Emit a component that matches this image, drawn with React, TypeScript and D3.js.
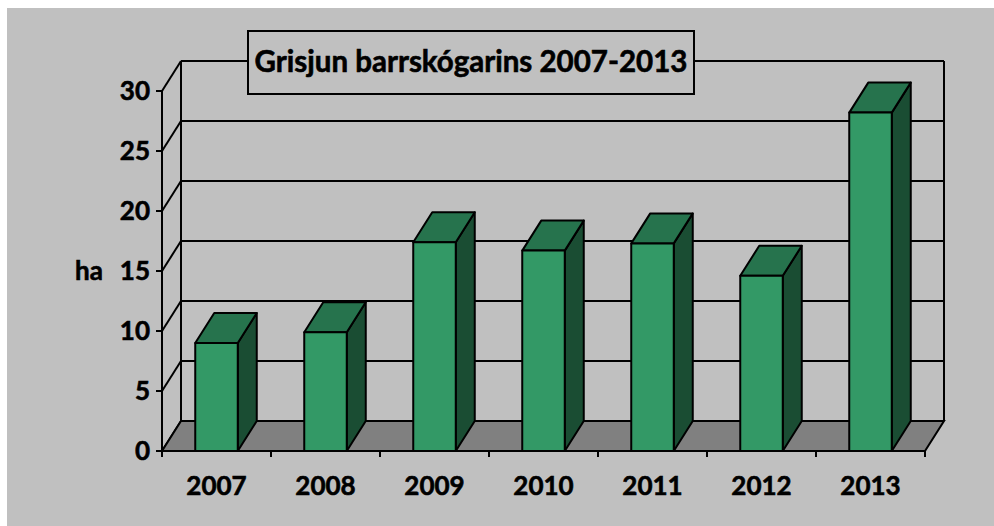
import React, { useRef, useEffect } from 'react'
import * as d3 from 'd3'

const years = ['2007', '2008', '2009', '2010', '2011', '2012', '2013']
const hectares = [9.0, 9.9, 17.4, 16.7, 17.3, 14.6, 28.2]
const yTicks = [0, 5, 10, 15, 20, 25, 30]
const title = 'Grisjun barrskógarins 2007-2013'
const yLabel = 'ha'

const W = 994
const H = 526
const FONT = 'Lato, "Open Sans", sans-serif'

export default function App() {
  const ref = useRef<SVGSVGElement>(null)

  useEffect(() => {
    const svg = d3.select(ref.current)
    svg.selectAll('*').remove()

    // depth offset of the 3d box
    const dx = 19
    const dy = -30

    const x = d3.scaleBand().domain(years).range([162, 925]).padding(0)
    const y = d3.scaleLinear().domain([0, 30]).range([451, 91])
    const barW = x.bandwidth() * 0.39

    svg.append('rect').attr('width', W).attr('height', H).attr('fill', '#fff')
    svg.append('rect').attr('x', 7).attr('y', 8).attr('width', W - 7).attr('height', H - 8).attr('fill', '#c0c0c0')

    const g = svg.append('g')
    const x0 = x.range()[0]
    const x1 = x.range()[1]

    const label = sel => sel
      .attr('font-family', FONT).attr('font-weight', 'bold')
      .attr('stroke', '#000').attr('stroke-width', 0.6)

    // back wall gridlines
    yTicks.forEach(t => {
      g.append('line')
        .attr('x1', x0 + dx).attr('x2', x1 + dx)
        .attr('y1', y(t) + dy).attr('y2', y(t) + dy)
        .attr('stroke', '#000').attr('stroke-width', 2)
      // side wall diagonals
      g.append('line')
        .attr('x1', x0).attr('y1', y(t))
        .attr('x2', x0 + dx).attr('y2', y(t) + dy)
        .attr('stroke', '#000').attr('stroke-width', 2)
    })
    // back wall verticals
    ;[x0 + dx, x1 + dx].forEach(xx => {
      g.append('line')
        .attr('x1', xx).attr('x2', xx)
        .attr('y1', y(30) + dy).attr('y2', y(0) + dy)
        .attr('stroke', '#000').attr('stroke-width', 2)
    })

    // floor
    g.append('path')
      .attr('d', `M${x0},${y(0)}L${x1},${y(0)}L${x1 + dx},${y(0) + dy}L${x0 + dx},${y(0) + dy}Z`)
      .attr('fill', '#808080').attr('stroke', '#000').attr('stroke-width', 2)

    // front value axis
    g.append('line')
      .attr('x1', x0).attr('x2', x0).attr('y1', y(0)).attr('y2', y(30))
      .attr('stroke', '#000').attr('stroke-width', 2)
    yTicks.forEach(t => {
      g.append('line')
        .attr('x1', x0 - 6).attr('x2', x0).attr('y1', y(t)).attr('y2', y(t))
        .attr('stroke', '#000').attr('stroke-width', 2)
      g.append('text')
        .attr('x', 150).attr('y', y(t) + 9)
        .attr('text-anchor', 'end')
        .attr('font-size', 26)
        .call(label)
        .text(t)
    })

    // category ticks
    const bounds = years.map(c => x(c) as number).concat([x1])
    bounds.forEach(b => {
      g.append('line')
        .attr('x1', b).attr('x2', b).attr('y1', y(0)).attr('y2', y(0) + 6)
        .attr('stroke', '#000').attr('stroke-width', 2)
    })
    years.forEach(c => {
      g.append('text')
        .attr('x', (x(c) as number) + x.bandwidth() / 2).attr('y', 495)
        .attr('text-anchor', 'middle')
        .attr('font-size', 26)
        .call(label)
        .text(c)
    })

    // bars
    years.forEach((c, i) => {
      const bx = (x(c) as number) + (x.bandwidth() - barW) / 2
      const by = y(hectares[i])
      const base = y(0)
      const bar = g.append('g').attr('stroke', '#000').attr('stroke-width', 2).attr('stroke-linejoin', 'round')
      bar.append('path')
        .attr('d', `M${bx + barW},${base}L${bx + barW + dx},${base + dy}L${bx + barW + dx},${by + dy}L${bx + barW},${by}Z`)
        .attr('fill', '#1a4d33')
      bar.append('path')
        .attr('d', `M${bx},${by}L${bx + dx},${by + dy}L${bx + barW + dx},${by + dy}L${bx + barW},${by}Z`)
        .attr('fill', '#26734d')
      bar.append('rect')
        .attr('x', bx).attr('y', by).attr('width', barW).attr('height', base - by)
        .attr('fill', '#339966')
    })

    // axis title
    g.append('text')
      .attr('x', 75).attr('y', 280)
      .attr('font-size', 26)
      .call(label)
      .text(yLabel)

    // chart title in box
    g.append('rect')
      .attr('x', 248).attr('y', 31).attr('width', 446).attr('height', 63)
      .attr('fill', '#c0c0c0').attr('stroke', '#000').attr('stroke-width', 2)
    g.append('text')
      .attr('x', 471).attr('y', 72)
      .attr('text-anchor', 'middle')
      .attr('font-size', 29.5)
      .call(label)
      .text(title)
  }, [])

  return (
    <svg
      ref={ref}
      width={W}
      height={H}
      style={{ position: 'absolute', left: 0, top: 0, display: 'block' }}
    />
  )
}
